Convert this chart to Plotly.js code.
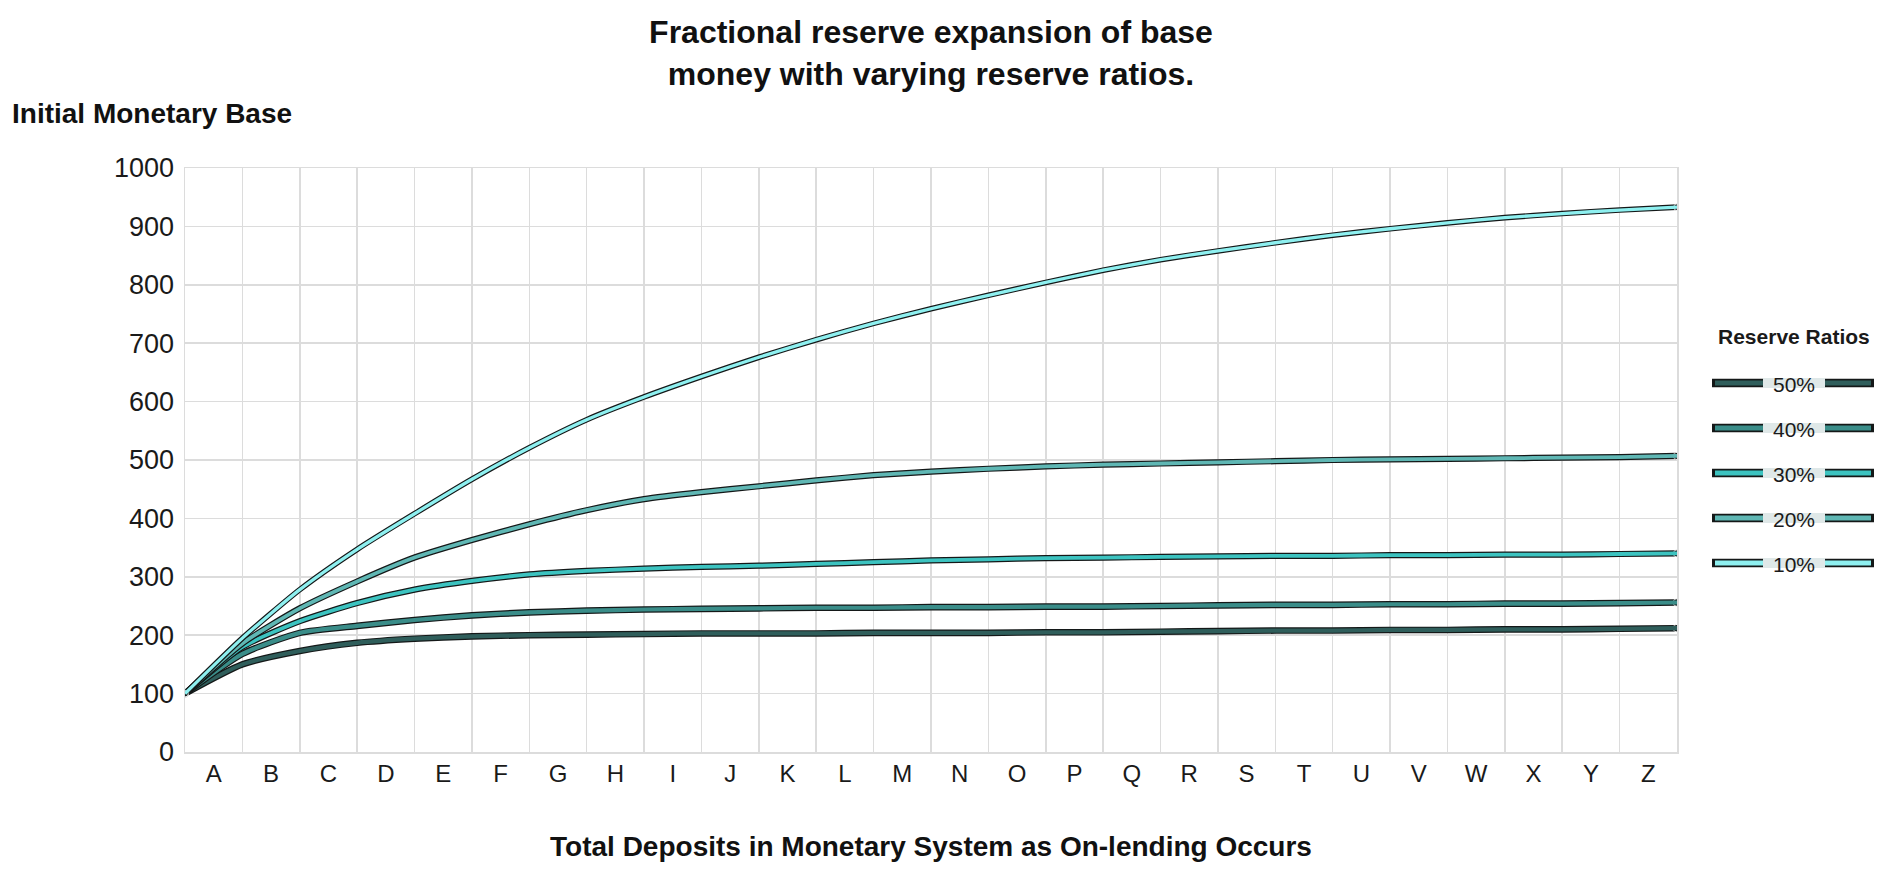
<!DOCTYPE html>
<html>
<head>
<meta charset="utf-8">
<script src="https://cdn.plot.ly/plotly-3.0.1.min.js"></script>
<style>
  html, body { margin: 0; padding: 0; background: #ffffff; }
  #chart { width: 1880px; height: 871px; }
</style>
</head>
<body>
<div id="chart"></div>
<script>
// ---- Data ----
const categories = ['A','B','C','D','E','F','G','H','I','J','K','L','M','N','O','P','Q','R','S','T','U','V','W','X','Y','Z'];
const steps = [0,1,2,3,4,5,6,7,8,9,10,11,12,13,14,15,16,17,18,19,20,21,22,23,24,25,26];
const seriesNames = ['50%','40%','30%','20%','10%'];
const ratio50 = [100,150,173,187,194,198,200,201,202,203,203,203,204,204,204,205,205,206,207,208,208,209,209,210,210,211,212];
const ratio40 = [100,168,204,216,226,234,239,242,244,245,246,247,247,248,248,249,249,250,251,252,252,253,253,254,254,255,256];
const ratio30 = [100,180,224,255,278,293,304,310,314,317,319,322,325,328,330,332,333,334,335,336,336,337,337,338,338,339,340];
const ratio20 = [100,186,246,292,333,363,390,414,433,445,455,465,474,480,485,489,492,494,496,498,500,501,502,503,504,505,507];
const ratio10 = [100,195,278,347,408,467,521,569,608,643,676,706,734,759,782,804,825,843,858,872,885,896,906,915,922,928,933];
const yTicks = [0,100,200,300,400,500,600,700,800,900,1000];

const seriesValues = [ratio50, ratio40, ratio30, ratio20, ratio10];
const innerColors = ['#2f5e5b', '#3a8d89', '#3cc3c0', '#5fb7b4', '#8ef0f0'];
const outlineWidths = [6.6, 6.6, 6.2, 6.2, 5.6];
const innerWidths = [4.2, 4.2, 3.8, 3.8, 3.3];
const outlineColor = '#141818';

// ---- Plot geometry (px) ----
const W = 1880, H = 871;
const M = { l: 185, r: 203, t: 168, b: 119 };
const plotW = W - M.l - M.r, plotH = H - M.t - M.b;
const px2x = (px) => (px - M.l) / plotW;
const px2y = (py) => (H - M.b - py) / plotH;

const FONT = 'Liberation Sans, Arial, Helvetica, sans-serif';
const GRID = '#dcdcdc';

// ---- Traces ----
const traces = [];
seriesValues.forEach((vals, k) => {
  const endSizes = vals.map((v, i) => (i === 0 || i === vals.length - 1) ? outlineWidths[k] + 1 : 0);
  traces.push({
    x: steps, y: vals, type: 'scatter', mode: 'lines+markers',
    line: { color: outlineColor, width: outlineWidths[k], shape: 'spline', smoothing: 0.6 },
    marker: { color: outlineColor, size: endSizes },
    hoverinfo: 'skip', showlegend: false
  });
  traces.push({
    x: steps, y: vals, type: 'scatter', mode: 'lines',
    name: seriesNames[k],
    line: { color: innerColors[k], width: innerWidths[k], shape: 'spline', smoothing: 0.6 },
    showlegend: false
  });
});

// ---- Custom legend (lines with the label over them) ----
const shapes = [];
const annotations = [];
const legX0 = 1712, legX1 = 1874, legTop = 383, legGap = 45;
const legMid = (legX0 + legX1) / 2 + 1;
annotations.push({
  text: '<b>Reserve Ratios</b>', xref: 'paper', yref: 'paper',
  x: px2x(legMid), y: px2y(336), xanchor: 'center', yanchor: 'middle',
  showarrow: false, font: { family: FONT, size: 21, color: '#1a1a1a' }
});
seriesNames.forEach((name, k) => {
  const py = legTop + k * legGap;
  shapes.push({ type: 'line', xref: 'paper', yref: 'paper', x0: px2x(legX0), x1: px2x(legX1), y0: px2y(py), y1: px2y(py),
    line: { color: outlineColor, width: 8.5 } });
  shapes.push({ type: 'line', xref: 'paper', yref: 'paper', x0: px2x(legX0 + 3), x1: px2x(legX1 - 3), y0: px2y(py), y1: px2y(py),
    line: { color: innerColors[k], width: 5 } });
  shapes.push({ type: 'line', xref: 'paper', yref: 'paper', x0: px2x(legMid - 31), x1: px2x(legMid + 31), y0: px2y(py), y1: px2y(py),
    line: { color: '#dfe8e8', width: 10 } });
  annotations.push({
    text: name, xref: 'paper', yref: 'paper', x: px2x(legMid), y: px2y(py + 1),
    xanchor: 'center', yanchor: 'middle', showarrow: false,
    font: { family: FONT, size: 21, color: '#1a1a1a' }
  });
});

// y-axis caption shown horizontally at top-left
annotations.push({
  text: '<b>Initial Monetary Base</b>', xref: 'paper', yref: 'paper',
  x: px2x(10), y: px2y(113), xanchor: 'left', yanchor: 'middle', showarrow: false,
  font: { family: FONT, size: 28, color: '#111' }
});

const layout = {
  width: W, height: H,
  margin: M,
  paper_bgcolor: '#ffffff', plot_bgcolor: '#ffffff',
  font: { family: FONT, color: '#1a1a1a' },
  showlegend: false,
  title: {
    text: '<b>Fractional reserve expansion of base<br>money with varying reserve ratios.</b>',
    x: 0.5, xref: 'paper', xanchor: 'center',
    y: 1 - 43 / H, yref: 'container', yanchor: 'middle',
    font: { family: FONT, size: 32, color: '#111' }
  },
  xaxis: {
    range: [0, 26], fixedrange: true,
    tickmode: 'array', tickvals: categories.map((c, i) => i + 0.5), ticktext: categories,
    showgrid: false, zeroline: false, ticks: '',
    tickfont: { family: FONT, size: 24, color: '#1a1a1a' },
    ticklabelstandoff: 0,
    minor: { tickmode: 'linear', tick0: 0, dtick: 1, showgrid: true, gridcolor: GRID, gridwidth: 1.5, ticks: '' },
    showline: true, mirror: true, linecolor: GRID, linewidth: 1.5,
    title: { text: '<b>Total Deposits in Monetary System as On-lending Occurs</b>', font: { family: FONT, size: 28, color: '#111' }, standoff: 50 }
  },
  yaxis: {
    range: [0, 1000], fixedrange: true,
    tickmode: 'array', tickvals: yTicks,
    showgrid: true, gridcolor: GRID, gridwidth: 1.5, zeroline: false, ticks: '',
    tickfont: { family: FONT, size: 27, color: '#1a1a1a' },
    ticklabelstandoff: 4,
    showline: true, mirror: true, linecolor: GRID, linewidth: 1.5
  },
  shapes: shapes,
  annotations: annotations
};

Plotly.newPlot('chart', traces, layout, { staticPlot: true, displayModeBar: false });
</script>
</body>
</html>
